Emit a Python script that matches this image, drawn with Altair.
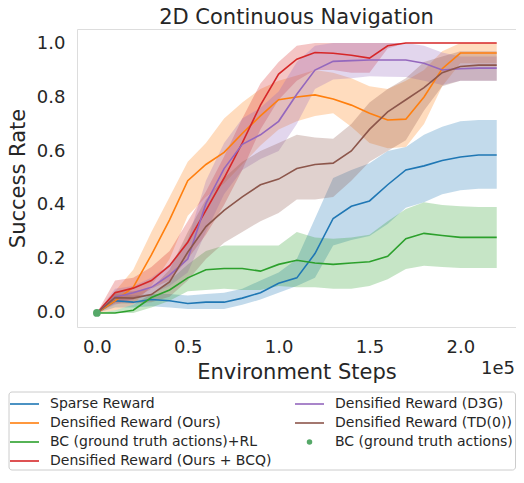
import altair as alt
import pandas as pd

# ---------------- data ----------------
steps = [0, 10000, 20000, 30000, 40000, 50000, 60000, 70000, 80000, 90000, 100000,
         110000, 120000, 130000, 140000, 150000, 160000, 170000, 180000, 190000,
         200000, 210000, 220000]

series_names = [
    "Sparse Reward",
    "Densified Reward (Ours)",
    "BC (ground truth actions)+RL",
    "Densified Reward (Ours + BCQ)",
    "Densified Reward (D3G)",
    "Densified Reward (TD(0))",
]
bc_name = "BC (ground truth actions)"
colors = ["#1f77b4", "#ff7f0e", "#2ca02c", "#d62728", "#9467bd", "#8c564b"]
bc_color = "#55a868"

sparse_mean = [0.0, 0.045, 0.04, 0.05, 0.045, 0.035, 0.04, 0.04, 0.055, 0.075, 0.11,
               0.13, 0.22, 0.35, 0.395, 0.415, 0.475, 0.53, 0.545, 0.565, 0.578, 0.585, 0.585]
sparse_lo = [0.0, 0.02, 0.02, 0.025, 0.02, 0.015, 0.015, 0.015, 0.03, 0.05, 0.075,
             0.1, 0.13, 0.25, 0.27, 0.285, 0.33, 0.39, 0.41, 0.44, 0.455, 0.46, 0.46]
sparse_hi = [0.0, 0.07, 0.065, 0.07, 0.07, 0.065, 0.07, 0.075, 0.09, 0.12, 0.15,
             0.2, 0.35, 0.5, 0.53, 0.555, 0.6, 0.615, 0.66, 0.69, 0.71, 0.715, 0.715]

ours_mean = [0.0, 0.045, 0.095, 0.215, 0.345, 0.49, 0.55, 0.595, 0.665, 0.73, 0.79,
             0.8, 0.808, 0.793, 0.77, 0.74, 0.715, 0.718, 0.8, 0.905, 0.963, 0.963, 0.963]
ours_lo = [0.0, 0.01, 0.03, 0.1, 0.2, 0.36, 0.43, 0.48, 0.55, 0.62, 0.68,
           0.71, 0.73, 0.74, 0.69, 0.63, 0.61, 0.615, 0.7, 0.84, 0.925, 0.925, 0.925]
ours_hi = [0.0, 0.08, 0.16, 0.3, 0.43, 0.56, 0.63, 0.72, 0.78, 0.83, 0.86,
           0.88, 0.9, 0.89, 0.87, 0.84, 0.83, 0.86, 0.9, 0.97, 1.0, 1.0, 1.0]

bcrl_mean = [0.0, 0.0, 0.01, 0.057, 0.085, 0.13, 0.16, 0.165, 0.165, 0.155, 0.18,
             0.195, 0.185, 0.18, 0.185, 0.19, 0.21, 0.275, 0.295, 0.287, 0.28, 0.28, 0.28]
bcrl_lo = [0.0, 0.0, 0.0, 0.02, 0.045, 0.08, 0.085, 0.09, 0.085, 0.085, 0.1,
           0.095, 0.095, 0.09, 0.09, 0.1, 0.125, 0.163, 0.175, 0.17, 0.167, 0.167, 0.167]
bcrl_hi = [0.0, 0.01, 0.03, 0.07, 0.12, 0.18, 0.23, 0.25, 0.25, 0.25, 0.25,
           0.3, 0.28, 0.275, 0.28, 0.29, 0.34, 0.385, 0.41, 0.4, 0.395, 0.393, 0.393]

bcq_mean = [0.0, 0.075, 0.092, 0.12, 0.175, 0.262, 0.38, 0.5, 0.63, 0.77, 0.885,
            0.94, 0.965, 0.962, 0.955, 0.944, 0.99, 1.0, 1.0, 1.0, 1.0, 1.0, 1.0]
bcq_lo = [0.0, 0.04, 0.05, 0.09, 0.12, 0.2, 0.29, 0.4, 0.53, 0.68, 0.79,
          0.86, 0.9, 0.9, 0.89, 0.89, 0.98, 1.0, 1.0, 1.0, 1.0, 1.0, 1.0]
bcq_hi = [0.0, 0.12, 0.13, 0.17, 0.23, 0.34, 0.45, 0.58, 0.72, 0.85, 0.93,
          0.99, 1.0, 1.0, 1.0, 1.0, 1.0, 1.0, 1.0, 1.0, 1.0, 1.0, 1.0]

d3g_mean = [0.0, 0.058, 0.075, 0.095, 0.14, 0.2, 0.405, 0.535, 0.625, 0.66, 0.71,
            0.81, 0.9, 0.932, 0.935, 0.937, 0.937, 0.937, 0.925, 0.9, 0.905, 0.907, 0.907]
d3g_lo = [0.0, 0.03, 0.05, 0.07, 0.1, 0.15, 0.3, 0.44, 0.53, 0.57, 0.6,
          0.7, 0.83, 0.865, 0.87, 0.877, 0.875, 0.874, 0.86, 0.845, 0.86, 0.86, 0.86]
d3g_hi = [0.0, 0.09, 0.1, 0.13, 0.18, 0.27, 0.49, 0.63, 0.72, 0.76, 0.82,
          0.93, 0.99, 1.0, 1.0, 1.0, 1.0, 1.0, 0.99, 0.965, 0.95, 0.95, 0.95]

td0_mean = [0.0, 0.057, 0.055, 0.068, 0.115, 0.225, 0.32, 0.38, 0.43, 0.475, 0.496,
            0.535, 0.55, 0.555, 0.6, 0.68, 0.745, 0.79, 0.835, 0.89, 0.913, 0.918, 0.918]
td0_lo = [0.0, 0.035, 0.035, 0.04, 0.06, 0.12, 0.2, 0.26, 0.3, 0.34, 0.37,
          0.42, 0.42, 0.43, 0.49, 0.56, 0.6, 0.64, 0.75, 0.84, 0.86, 0.86, 0.86]
td0_hi = [0.0, 0.08, 0.08, 0.09, 0.16, 0.3, 0.42, 0.5, 0.56, 0.6, 0.63,
          0.66, 0.65, 0.645, 0.7, 0.78, 0.83, 0.87, 0.93, 0.95, 0.97, 0.97, 0.97]

means = [sparse_mean, ours_mean, bcrl_mean, bcq_mean, d3g_mean, td0_mean]
los = [sparse_lo, ours_lo, bcrl_lo, bcq_lo, d3g_lo, td0_lo]
his = [sparse_hi, ours_hi, bcrl_hi, bcq_hi, d3g_hi, td0_hi]

bc_step = [0]
bc_value = [0.0]

x_ticks = [0, 50000, 100000, 150000, 200000]
y_ticks = [0.0, 0.2, 0.4, 0.6, 0.8, 1.0]

# legend layout (matplotlib ncol=2 fills column-first)
legend_labels = series_names[:4] + series_names[4:] + [bc_name]
legend_col = [0, 0, 0, 0, 1, 1, 1]
legend_row = [0, 1, 2, 3, 0, 1, 2]

# ---------------- frames ----------------
rows = []
for name, m, lo, hi in zip(series_names, means, los, his):
    for s, a, b, c in zip(steps, m, lo, hi):
        rows.append({"series": name, "step": s, "mean": a, "lo": b, "hi": c})
df = pd.DataFrame(rows)
bc_df = pd.DataFrame({"series": [bc_name], "step": bc_step, "mean": bc_value})
leg_df = pd.DataFrame({"series": legend_labels, "col": legend_col, "row": legend_row})

TXT = "#262626"
FONT = "DejaVu Sans"
W, H = 439, 298

color_scale = alt.Scale(domain=series_names + [bc_name], range=colors + [bc_color])
x_scale = alt.Scale(domain=[-10930, 230600], nice=False, zero=False)
y_scale = alt.Scale(domain=[-0.052, 1.052], nice=False, zero=False)

x_axis = alt.Axis(values=x_ticks, labelExpr="format(datum.value/100000, '.1f')",
                  title="Environment Steps", grid=False, ticks=False, domain=False,
                  labelFontSize=18, titleFontSize=21, labelPadding=11, titlePadding=5,
                  labelColor=TXT, titleColor=TXT, titleFontWeight="normal",
                  labelFont=FONT, titleFont=FONT)
y_axis = alt.Axis(values=y_ticks, format=".1f", title="Success Rate", grid=False,
                  ticks=False, domain=False, labelFontSize=18, titleFontSize=21,
                  labelPadding=12, titlePadding=8, labelColor=TXT, titleColor=TXT,
                  titleFontWeight="normal", labelFont=FONT, titleFont=FONT)

band = alt.Chart(df).mark_area(opacity=0.27).encode(
    x=alt.X("step:Q", scale=x_scale, axis=x_axis),
    y=alt.Y("lo:Q", scale=y_scale, axis=y_axis),
    y2="hi:Q",
    color=alt.Color("series:N", scale=color_scale, legend=None),
)
lines = alt.Chart(df).mark_line(strokeWidth=1.6).encode(
    x="step:Q", y="mean:Q",
    color=alt.Color("series:N", scale=color_scale, legend=None),
)
bc_pt = alt.Chart(bc_df).mark_circle(size=60, opacity=1).encode(
    x="step:Q", y="mean:Q",
    color=alt.Color("series:N", scale=color_scale, legend=None),
)
offset_txt = alt.Chart(pd.DataFrame({"t": ["1e5"]})).mark_text(
    align="right", baseline="alphabetic", fontSize=18, color=TXT, font=FONT
).encode(x=alt.value(W - 1), y=alt.value(345), text="t:N")

main = alt.layer(band, lines, bc_pt, offset_txt)

# ---------------- legend ----------------
lx = alt.X("col:Q", scale=alt.Scale(domain=[0, 1], range=[-52.5, 232.5]), axis=None)
ly = alt.Y("row:Q", scale=alt.Scale(domain=[0, 3], range=[375, 432]), axis=None)

box = alt.Chart(pd.DataFrame({"a": [0]})).mark_rect(
    fill="white", stroke="#cccccc", strokeWidth=1, cornerRadius=3
).encode(x=alt.value(-68), x2=alt.value(W - 0.5), y=alt.value(363), y2=alt.value(441))

leg_lines = alt.Chart(leg_df).transform_filter(
    alt.datum.series != bc_name
).mark_point(shape="stroke", size=841, strokeWidth=1.6, filled=False, opacity=1).encode(
    x=lx, y=ly, color=alt.Color("series:N", scale=color_scale, legend=None)
)
leg_pt = alt.Chart(leg_df).transform_filter(
    alt.datum.series == bc_name
).mark_circle(size=30, opacity=1).encode(
    x=lx, y=ly, color=alt.Color("series:N", scale=color_scale, legend=None)
)
leg_txt = alt.Chart(leg_df).mark_text(
    align="left", baseline="middle", dx=25.5, fontSize=14, color=TXT, font=FONT
).encode(x=lx, y=ly, text="series:N")

legend = alt.layer(box, leg_lines, leg_pt, leg_txt)

chart = alt.layer(main, legend).resolve_scale(
    x="independent", y="independent"
).properties(
    width=W, height=H,
    title=alt.TitleParams("2D Continuous Navigation", fontSize=21, font=FONT,
                          fontWeight="normal", color=TXT, anchor="middle", offset=1),
    padding={"left": 69, "top": 21, "right": 0, "bottom": 144},
    autosize=alt.AutoSizeParams(type="none"),
).configure_view(stroke="#333333", strokeWidth=1.25).configure(font=FONT, background="white")

chart.save("out.html", embed_options={"renderer": "svg", "actions": False})
